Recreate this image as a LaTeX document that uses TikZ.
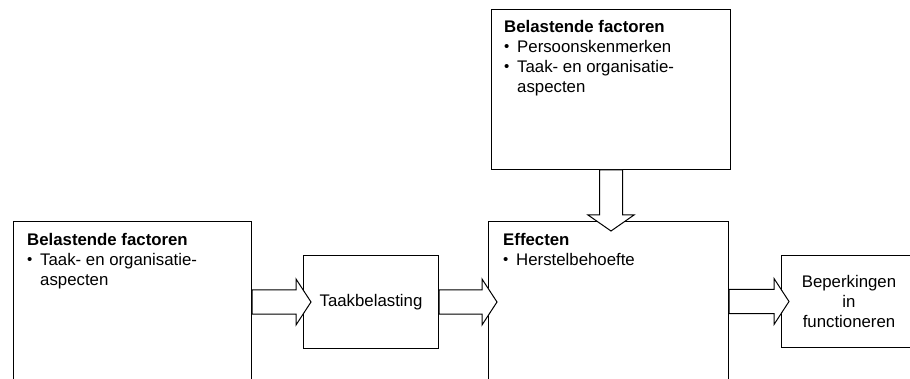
\documentclass[tikz,border=0pt]{standalone}
\usepackage{fontspec}
\setmainfont{Liberation Sans}
\usetikzlibrary{calc}
\tikzset{
  box/.style={draw, line width=1pt, inner sep=0pt, anchor=north west, align=center,
    font=\fontsize{16.8}{20}\selectfont},
  txt/.style={inner sep=0pt, anchor=north west, align=left, font=\fontsize{16.8}{20}\selectfont},
  fat/.style={draw, fill=white, line width=1pt, line join=miter}
}
\newcommand\bul{\makebox[13pt][l]{\raisebox{0.4pt}{\fontsize{15}{15}\selectfont\textbullet}}}
\newcommand\fatright[2]{%
  \draw[fat] let \p1=#1, \p2=#2 in
    (\x1,\y1+12pt) -- (\x2-15pt,\y1+12pt) -- (\x2-15pt,\y1+23pt) -- (\x2,\y1)
    -- (\x2-15pt,\y1-23pt) -- (\x2-15pt,\y1-12pt) -- (\x1,\y1-12pt) -- cycle;}
\newcommand\fatdown[2]{%
  \draw[fat] let \p1=#1, \p2=#2 in
    (\x1-11.5pt,\y1) -- (\x1-11.5pt,\y2+16pt) -- (\x1-23pt,\y2+16pt) -- (\x1,\y2)
    -- (\x1+23pt,\y2+16pt) -- (\x1+11.5pt,\y2+16pt) -- (\x1+11.5pt,\y1) -- cycle;}
\begin{document}
\begin{tikzpicture}[x=1pt,y=-1pt]
    \clip (0,0) rectangle (910,379);
    \node[box, minimum width=238pt, minimum height=200pt] (lf) at (13,221) {};
    \node[box, minimum width=135pt, minimum height=93pt] (tb) at (303,255) {Taakbelasting};
    \node[box, minimum width=239pt, minimum height=160pt] (top) at (491,9) {};
    \node[box, minimum width=240pt, minimum height=200pt] (ef) at (488,221) {};
    \node[box, minimum width=135pt, minimum height=92pt] (bf) at (781,255) {Beperkingen\\in\\functioneren};
    % teksten
    \node[txt] (lft) at ($(lf.north west)+(14,12)$) {\textbf{Belastende factoren}\\
      \bul Taak- en organisatie-\\ \hspace*{13pt}aspecten};
    \node[txt] (topt) at ($(top.north west)+(13,11)$) {\textbf{Belastende factoren}\\
      \bul Persoonskenmerken\\ \bul Taak- en organisatie-\\ \hspace*{13pt}aspecten};
    \node[txt] (eft) at ($(ef.north west)+(15,12)$) {\textbf{Effecten}\\ \bul Herstelbehoefte};
    % pijlen
    \fatright{(lf.east |- tb.center)}{($(tb.west)+(8,0)$)}
    \fatright{(tb.east)}{($(ef.west |- tb.east)+(9,0)$)}
    \fatright{(ef.east |- bf.west)}{($(bf.west)+(8,0)$)}
    \fatdown{(top.south)}{($(top.south |- ef.north)+(0,10)$)}
\end{tikzpicture}
\end{document}
